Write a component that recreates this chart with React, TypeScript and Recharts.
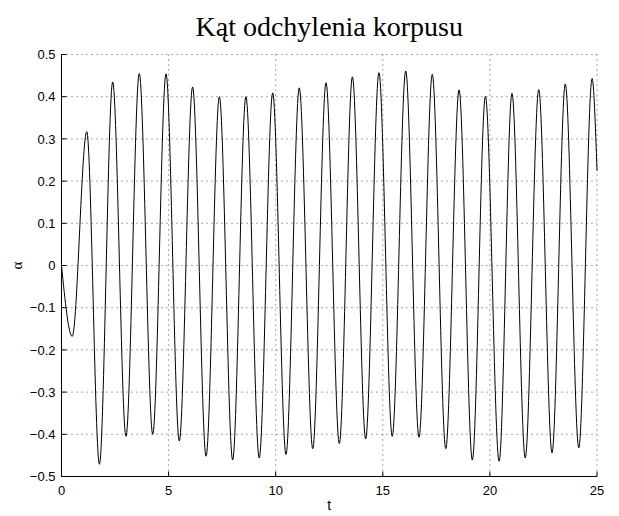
import React from "react";
import { LineChart, Line, XAxis, YAxis, CartesianGrid, Label } from "recharts";

const title = "Kąt odchylenia korpusu";
const xLabel = "t";
const yLabel = "α";

// time of each turning point (s)
const times = [
  0, 0.5, 1.18, 1.77, 2.39, 3.01, 3.63, 4.26, 4.88, 5.5, 6.12, 6.75, 7.37, 7.99,
  8.61, 9.23, 9.86, 10.48, 11.1, 11.73, 12.35, 12.97, 13.58, 14.2, 14.82, 15.44,
  16.07, 16.69, 17.31, 17.94, 18.56, 19.18, 19.79, 20.43, 21.03, 21.65, 22.28,
  22.9, 23.52, 24.15, 24.77, 25,
];
// angle at each turning point
const alpha = [
  0, -0.168, 0.317, -0.471, 0.435, -0.405, 0.455, -0.4, 0.454, -0.416, 0.423,
  -0.452, 0.4, -0.461, 0.4, -0.456, 0.409, -0.448, 0.421, -0.434, 0.433, -0.422,
  0.447, -0.411, 0.457, -0.405, 0.461, -0.407, 0.453, -0.434, 0.416, -0.461,
  0.401, -0.464, 0.408, -0.456, 0.417, -0.444, 0.43, -0.432, 0.443, 0.225,
];

const xTicks = [0, 5, 10, 15, 20, 25];
const yTicks = [-0.5, -0.4, -0.3, -0.2, -0.1, 0, 0.1, 0.2, 0.3, 0.4, 0.5];

const data = times.map((t, i) => ({ t, a: alpha[i] }));

const FONT = "'Liberation Sans', Arial, Helvetica, sans-serif";

const fmt = (v: number) => {
  const r = Math.round(v * 10) / 10;
  if (r === 0) return "0";
  const s = Math.abs(r).toString();
  return r < 0 ? "\u2212" + s : s;
};

const XTick = (props: any) => {
  const { x, y, payload } = props;
  return (
    <g>
      <line x1={x} y1={y} x2={x} y2={y - 5} stroke="#000" strokeWidth={1} />
      <text x={x} y={y + 18} textAnchor="middle" fontFamily={FONT} fontSize={13} fill="#000">
        {fmt(payload.value)}
      </text>
    </g>
  );
};

const YTick = (props: any) => {
  const { x, y, payload } = props;
  return (
    <g>
      <line x1={x} y1={y} x2={x + 5} y2={y} stroke="#000" strokeWidth={1} />
      <text x={x - 6} y={y + 4.6} textAnchor="end" fontFamily={FONT} fontSize={13} fill="#000">
        {fmt(payload.value)}
      </text>
    </g>
  );
};

export default function App() {
  return (
    <div style={{ position: "absolute", left: 0, top: 0, width: 619, height: 516, background: "#fff" }}>
      <div
        style={{
          position: "absolute",
          left: 61.5,
          width: 535.5,
          top: 12,
          textAlign: "center",
          fontFamily: "'Liberation Serif', 'Times New Roman', serif",
          fontSize: 28,
          lineHeight: "30px",
          color: "#000",
          whiteSpace: "nowrap",
        }}
      >
        {title}
      </div>
      <LineChart
        width={619}
        height={516}
        data={data}
        margin={{ top: 54.5, right: 22, bottom: 0, left: 0 }}
      >
        <CartesianGrid stroke="#555" strokeDasharray="1 4" />
        <XAxis
          type="number"
          dataKey="t"
          domain={[0, 25]}
          ticks={xTicks}
          height={39.5}
          tickSize={0}
          tickMargin={0}
          tickLine={false}
          axisLine={{ stroke: "#000", strokeWidth: 1 }}
          tick={<XTick />}
          interval={0}
        >
          <Label
            content={(p: any) => {
              const vb = p.viewBox;
              return (
                <text x={vb.x + vb.width / 2} y={510} textAnchor="middle" fontFamily={FONT} fontSize={14} fill="#000">
                  {xLabel}
                </text>
              );
            }}
          />
        </XAxis>
        <YAxis
          type="number"
          domain={[-0.5, 0.5]}
          ticks={yTicks}
          width={61.5}
          tickSize={0}
          tickMargin={0}
          tickLine={false}
          axisLine={{ stroke: "#000", strokeWidth: 1 }}
          tick={<YTick />}
          interval={0}
          allowDataOverflow
        >
          <Label
            content={(p: any) => {
              const vb = p.viewBox;
              const cy = vb.y + vb.height / 2;
              return (
                <text
                  x={16.5}
                  y={cy}
                  transform={`rotate(-90 16.5 ${cy})`}
                  textAnchor="middle"
                  dominantBaseline="central"
                  fontFamily="'Liberation Serif', serif"
                  fontSize={15}
                  fill="#000"
                >
                  {yLabel}
                </text>
              );
            }}
          />
        </YAxis>
        <Line
          type="monotone"
          dataKey="a"
          stroke="#000"
          strokeWidth={1}
          dot={false}
          isAnimationActive={false}
        />
      </LineChart>
    </div>
  );
}
